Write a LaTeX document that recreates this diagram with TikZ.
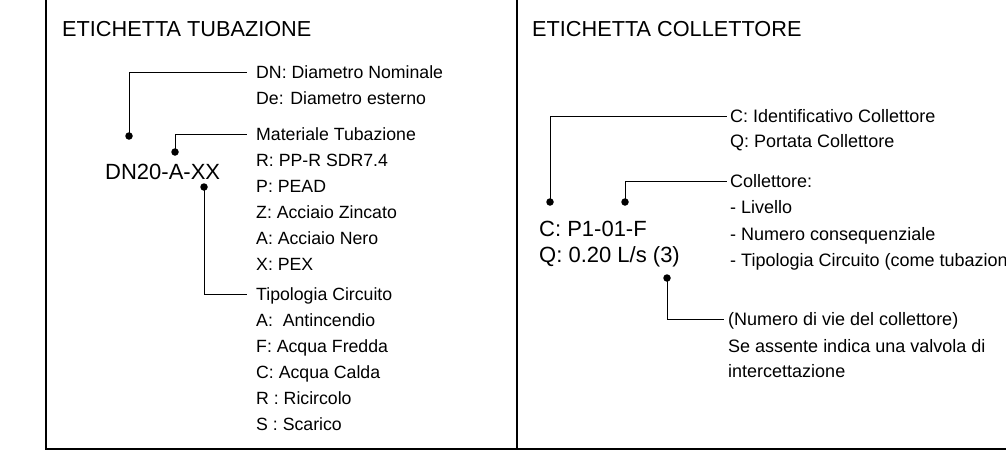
\documentclass[tikz,border=0pt]{standalone}
\usepackage{fontspec}
\setmainfont{Liberation Sans}
\begin{document}
\begin{tikzpicture}[x=1pt,y=-1pt,
  frame/.style={line width=2pt},
  leader/.style={line width=1pt},
  dot/.style={circle,fill=black,inner sep=0pt,minimum size=7.5pt},
  title/.style={anchor=base west,inner sep=0pt,font=\fontsize{21.7}{26}\selectfont},
  code/.style={anchor=base west,inner sep=0pt,font=\fontsize{22}{26}\selectfont},
  ltxt/.style={anchor=base west,inner sep=0pt,text height=12pt,text depth=0pt,font=\fontsize{17.7}{26}\selectfont},
  rtxt/.style={anchor=base west,inner sep=0pt,text height=12pt,text depth=0pt,font=\fontsize{18}{26}\selectfont}]
\useasboundingbox (0,0) rectangle (1006,450);
\clip (0,0) rectangle (1006,450);
% frame
\coordinate (fTL) at (46,0);
\coordinate (fBL) at (46,449);
\coordinate (fBR) at (1006,449);
\coordinate (dT) at (517,0);
\coordinate (dB) at (517,449);
\draw[frame] (fTL) -- (fBL) -- (fBR);
\draw[frame] (dT) -- (dB);
% ---------- left panel ----------
\node[title] (ttl1) at (62,36) {ETICHETTA TUBAZIONE};
\node[code] (code1) at (105,179) {DN20-A-XX};
\node[ltxt] (a1) at (256,78) {DN: Diametro Nominale};
\node[ltxt] (a2) at (256,104) {De: Diametro esterno};
\node[ltxt] (b1) at (256,140) {Materiale Tubazione};
\node[ltxt] (b2) at (256,166) {R: PP-R SDR7.4};
\node[ltxt] (b3) at (256,192) {P: PEAD};
\node[ltxt] (b4) at (256,218) {Z: Acciaio Zincato};
\node[ltxt] (b5) at (256,244) {A: Acciaio Nero};
\node[ltxt] (b6) at (256,270) {X: PEX};
\node[ltxt] (c1) at (256,300) {Tipologia Circuito};
\node[ltxt] (c2) at (256,326) {A:\ \ Antincendio};
\node[ltxt] (c3) at (256,352) {F: Acqua Fredda};
\node[ltxt] (c4) at (256,378) {C: Acqua Calda};
\node[ltxt] (c5) at (256,404) {R : Ricircolo};
\node[ltxt] (c6) at (256,430) {S : Scarico};
\node[dot] (p1) at (129,136) {};
\node[dot] (p2) at (175,152) {};
\node[dot] (p3) at (204,187) {};
\draw[leader] (p1.center) |- ([xshift=-9pt]a1.west);
\draw[leader] (p2.center) |- ([xshift=-9pt]b1.west);
\draw[leader] (p3.center) |- ([xshift=-9pt]c1.west);
% ---------- right panel ----------
\node[title] (ttl2) at (532,36) {ETICHETTA COLLETTORE};
\node[code] (code2) at (539,236) {C: P1-01-F};
\node[code] (code3) at (539,262) {Q: 0.20 L/s (3)};
\node[rtxt] (e1) at (730,122) {C: Identificativo Collettore};
\node[rtxt] (e2) at (730,147) {Q: Portata Collettore};
\node[rtxt] (f1) at (730,187) {Collettore:};
\node[rtxt] (f2) at (730,213) {- Livello};
\node[rtxt] (f3) at (730,240) {- Numero consequenziale};
\node[rtxt] (f4) at (730,266) {- Tipologia Circuito (come tubazione)};
\node[rtxt] (g1) at (728,325) {(Numero di vie del collettore)};
\node[rtxt] (g2) at (728,352) {Se assente indica una valvola di};
\node[rtxt] (g3) at (728,377) {intercettazione};
\node[dot] (q1) at (550,202) {};
\node[dot] (q2) at (625,202) {};
\node[dot] (q3) at (667,278) {};
\draw[leader] (q1.center) |- ([xshift=-3pt]e1.west);
\draw[leader] (q2.center) |- ([xshift=-3pt]f1.west);
\draw[leader] (q3.center) |- ([xshift=-4pt]g1.west);
\end{tikzpicture}
\end{document}
